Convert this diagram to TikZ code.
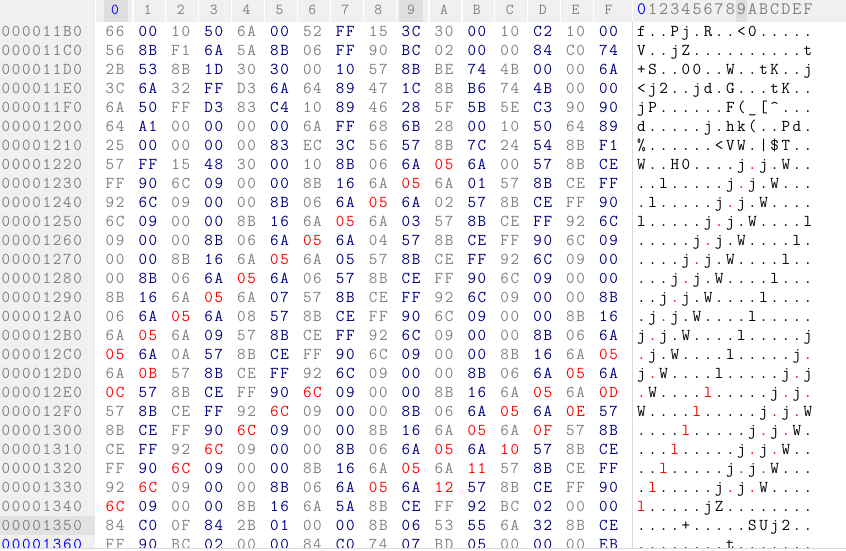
\documentclass[tikz,border=0pt]{standalone}
\usepackage{fontspec}
\definecolor{headbg}{HTML}{F0F0F0}
\definecolor{hlbg}{HTML}{DEDEDE}
\definecolor{rowhl}{HTML}{E2E2E2}
\definecolor{txtgray}{HTML}{808080}
\definecolor{txtnavy}{HTML}{000080}
\definecolor{txtred}{HTML}{FF0000}
\definecolor{txtblue}{HTML}{0000FF}
\definecolor{sepgray}{HTML}{DADADA}
\def\parsebyte#1#2#3\relax{\ifx r#1\def\isred{1}\def\da{#2}\def\db{#3}\else\def\isred{0}\def\da{#1}\def\db{#2}\fi\edef\bv{\da\db}}
\def\asciichar{\ifnum\cv>31 \ifnum\cv<127 \char\cv\relax\else.\fi\else.\fi}
\def\spreadA#1{\ifx\relax#1\else\makebox[10.25pt]{#1}\expandafter\spreadA\fi}
\begin{document}
\begin{tikzpicture}[x=1pt,y=-1pt,
  hexbyte/.style={anchor=base,inner sep=0pt,font=\ttfamily\fontsize{16.6}{17}\selectfont},
  addrtxt/.style={anchor=base west,inner sep=0pt,font=\ttfamily\fontsize{16.6}{17}\selectfont},
  headtxt/.style={anchor=base,inner sep=0pt,text=txtgray,font=\ttfamily\fontsize{15.2}{16}\selectfont},
  asciihead/.style={anchor=base,inner sep=0pt,text=txtgray,font=\ttfamily\fontsize{17.5}{17}\selectfont},
  headsep/.style={draw=white,line width=1.2pt}]
\useasboundingbox (0,0) rectangle (846,550);
% backgrounds
\fill[white] (0,0) rectangle (846,550);
\fill[headbg] (0,0) rectangle (846,22);
\fill[headbg] (0,22) rectangle (95,548);
\fill[rowhl] (0,515.7) rectangle (95,534.7);
\fill[hlbg] (103.5,0) rectangle (127.5,21.5);
\fill[hlbg] (398.5,0) rectangle (422.5,21.5);
\fill[hlbg] (736,0) rectangle (747,21.5);
% header separators
\draw[headsep] (95.5,0) -- (95.5,22);
\foreach \c in {0,...,14}{
  \draw[headsep] ({116.5+32.9*(\c+0.5)},0) -- ({116.5+32.9*(\c+0.5)},22);
}
\draw[headsep] (632.5,0) -- (632.5,22);
\draw[sepgray,line width=1pt] (632.5,22) -- (632.5,548);
% header labels
\foreach \h [count=\c from 0] in {0,1,2,3,4,5,6,7,8,9,A,B,C,D,E,F}{
  \ifnum\c=0 \def\hc{txtblue}\else\def\hc{txtgray}\fi
  \node[headtxt,text=\hc] (hh-\c) at ({115+32.9*\c},14.3) {\h};
  \node[asciihead,text=\hc] (ah-\c) at ({641.5+11.1*\c},14.3) {\h};
}
% rows
\begin{scope}
\clip (0,22) rectangle (846,548);
\foreach \addr/\bytes [count=\r from 0] in {
 000011B0/{66,00,10,50,6A,00,52,FF,15,3C,30,00,10,C2,10,00},
 000011C0/{56,8B,F1,6A,5A,8B,06,FF,90,BC,02,00,00,84,C0,74},
 000011D0/{2B,53,8B,1D,30,30,00,10,57,8B,BE,74,4B,00,00,6A},
 000011E0/{3C,6A,32,FF,D3,6A,64,89,47,1C,8B,B6,74,4B,00,00},
 000011F0/{6A,50,FF,D3,83,C4,10,89,46,28,5F,5B,5E,C3,90,90},
 00001200/{64,A1,00,00,00,00,6A,FF,68,6B,28,00,10,50,64,89},
 00001210/{25,00,00,00,00,83,EC,3C,56,57,8B,7C,24,54,8B,F1},
 00001220/{57,FF,15,48,30,00,10,8B,06,6A,r05,6A,00,57,8B,CE},
 00001230/{FF,90,6C,09,00,00,8B,16,6A,r05,6A,01,57,8B,CE,FF},
 00001240/{92,6C,09,00,00,8B,06,6A,r05,6A,02,57,8B,CE,FF,90},
 00001250/{6C,09,00,00,8B,16,6A,r05,6A,03,57,8B,CE,FF,92,6C},
 00001260/{09,00,00,8B,06,6A,r05,6A,04,57,8B,CE,FF,90,6C,09},
 00001270/{00,00,8B,16,6A,r05,6A,05,57,8B,CE,FF,92,6C,09,00},
 00001280/{00,8B,06,6A,r05,6A,06,57,8B,CE,FF,90,6C,09,00,00},
 00001290/{8B,16,6A,r05,6A,07,57,8B,CE,FF,92,6C,09,00,00,8B},
 000012A0/{06,6A,r05,6A,08,57,8B,CE,FF,90,6C,09,00,00,8B,16},
 000012B0/{6A,r05,6A,09,57,8B,CE,FF,92,6C,09,00,00,8B,06,6A},
 000012C0/{r05,6A,0A,57,8B,CE,FF,90,6C,09,00,00,8B,16,6A,r05},
 000012D0/{6A,r0B,57,8B,CE,FF,92,6C,09,00,00,8B,06,6A,r05,6A},
 000012E0/{r0C,57,8B,CE,FF,90,r6C,09,00,00,8B,16,6A,r05,6A,r0D},
 000012F0/{57,8B,CE,FF,92,r6C,09,00,00,8B,06,6A,r05,6A,r0E,57},
 00001300/{8B,CE,FF,90,r6C,09,00,00,8B,16,6A,r05,6A,r0F,57,8B},
 00001310/{CE,FF,92,r6C,09,00,00,8B,06,6A,r05,6A,r10,57,8B,CE},
 00001320/{FF,90,r6C,09,00,00,8B,16,6A,r05,6A,r11,57,8B,CE,FF},
 00001330/{92,r6C,09,00,00,8B,06,6A,r05,6A,r12,57,8B,CE,FF,90},
 00001340/{r6C,09,00,00,8B,16,6A,5A,8B,CE,FF,92,BC,02,00,00},
 00001350/{84,C0,0F,84,2B,01,00,00,8B,06,53,55,6A,32,8B,CE},
 00001360/{FF,90,BC,02,00,00,84,C0,74,07,BD,05,00,00,00,EB}}{
  \pgfmathsetmacro\yb{36.9+18.98*\r}
  \ifnum\r=27 \def\ac{txtblue}\else\def\ac{txtgray}\fi
  \node[addrtxt,text=\ac] (ad-\r) at (0.5,\yb) {\expandafter\spreadA\addr\relax};
  \foreach \b [count=\c from 0] in \bytes {
    \expandafter\parsebyte\b\relax
    \edef\cv{\number"\bv}
    \ifnum\isred=1 \def\bc{txtred}\def\tc{txtred}\else
      \def\tc{black}\ifodd\c\def\bc{txtnavy}\else\def\bc{txtgray}\fi\fi
    \node[hexbyte,text=\bc] (hx-\r-\c) at ({115+32.9*\c},\yb) {\makebox[10.2pt]{\da}\makebox[10.2pt]{\db}};
    \node[hexbyte,text=\tc] (as-\r-\c) at ({641.5+11.1*\c},\yb) {\asciichar};
  }
}
\end{scope}
\draw[sepgray,line width=1.5pt] (0,548.7) -- (846,548.7);
\end{tikzpicture}
\end{document}
